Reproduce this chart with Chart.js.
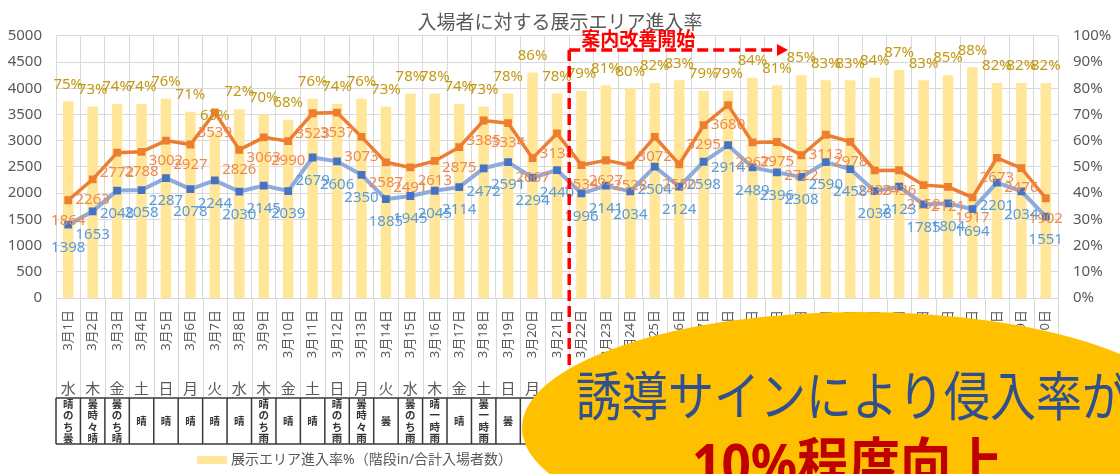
<!DOCTYPE html>
<html lang="ja">
<head>
<meta charset="utf-8">
<title>入場者に対する展示エリア進入率</title>
<script src="https://cdn.jsdelivr.net/npm/chart.js@4.4.1/dist/chart.umd.min.js"></script>
<style>
  html, body { margin: 0; padding: 0; background: #fff; }
  #wrap { width: 1120px; height: 474px; }
</style>
</head>
<body>
<div id="wrap"><canvas id="chart" width="1120" height="474"></canvas></div>
<script>
var days = ['3月1日', '3月2日', '3月3日', '3月4日', '3月5日', '3月6日', '3月7日', '3月8日', '3月9日', '3月10日',
    '3月11日', '3月12日', '3月13日', '3月14日', '3月15日', '3月16日', '3月17日', '3月18日', '3月19日', '3月20日',
    '3月21日', '3月22日', '3月23日', '3月24日', '3月25日', '3月26日', '3月27日', '3月28日', '3月29日', '3月30日',
    '3月31日', '4月1日', '4月2日', '4月3日', '4月4日', '4月5日', '4月6日', '4月7日', '4月8日', '4月9日', '4月10日'];
var weekdays = ['水', '木', '金', '土', '日', '月', '火', '水', '木', '金', '土', '日', '月', '火', '水', '木', '金', '土', '日', '月',
    '火', '水', '木', '金', '土', '日', '月', '火', '水', '木', '金', '土', '日', '月', '火', '水', '木', '金', '土', '日', '月'];
var weather = ['晴のち曇', '曇時々晴', '曇のち晴', '晴', '晴', '晴', '晴', '晴', '晴のち雨', '晴',
    '晴', '晴のち雨', '曇時々雨', '曇', '曇のち雨', '晴一時雨', '晴', '曇一時雨', '曇', '晴',
    '晴', '晴', '晴', '晴', '晴', '晴', '晴', '晴', '晴', '晴',
    '晴', '晴', '晴', '晴', '晴', '晴', '晴', '晴', '晴', '晴', '晴'];

// 合計入場者数
var totalVisitors = [1864, 2263, 2772, 2788, 3002, 2927, 3539, 2826, 3063, 2990,
    3523, 3537, 3073, 2587, 2491, 2613, 2875, 3385, 3334, 2667,
    3138, 2534, 2627, 2528, 3072, 2550, 3295, 3680, 2967, 2975,
    2722, 3113, 2978, 2433, 2436, 2152, 2121, 1917, 2673, 2476, 1902];
// 階段in
var stairsIn = [1398, 1653, 2048, 2058, 2287, 2078, 2244, 2030, 2145, 2039,
    2679, 2606, 2350, 1885, 1945, 2045, 2114, 2472, 2591, 2294,
    2440, 1996, 2141, 2034, 2504, 2124, 2598, 2914, 2489, 2396,
    2308, 2590, 2458, 2038, 2123, 1785, 1804, 1694, 2201, 2034, 1551];
// 展示エリア進入率%
var entryRate = [75, 73, 74, 74, 76, 71, 63, 72, 70, 68,
    76, 74, 76, 73, 78, 78, 74, 73, 78, 86,
    78, 79, 81, 80, 82, 83, 79, 79, 84, 81,
    85, 83, 83, 84, 87, 83, 85, 88, 82, 82, 82];

var leftTicks = [0, 500, 1000, 1500, 2000, 2500, 3000, 3500, 4000, 4500, 5000];
var rightTicks = [0, 10, 20, 30, 40, 50, 60, 70, 80, 90, 100];

var startIndex = 21;   // 3月22日
var arrowEndIndex = 29;
var noteText = '案内改善開始';
var bubbleLine1 = '誘導サインにより侵入率が';
var bubbleLine2 = '10%程度向上';
var legendText = '展示エリア進入率%（階段in/合計入場者数）';

var CJK = '"Noto Sans CJK JP", sans-serif';
Chart.defaults.font.family = '"Noto Sans", "Noto Sans CJK JP", sans-serif';
Chart.defaults.color = '#595959';

var extras = {
    id: 'extras',
    afterDatasetsDraw: function (chart) {
        var ctx = chart.ctx;
        ctx.save();
        ctx.font = '15px "Noto Sans", sans-serif';
        ctx.textAlign = 'center';
        ctx.textBaseline = 'middle';
        chart.getDatasetMeta(1).data.forEach(function (p, i) {
            ctx.fillStyle = '#F08A4B';
            ctx.fillText(totalVisitors[i], p.x, p.y + 20);
        });
        chart.getDatasetMeta(2).data.forEach(function (p, i) {
            ctx.fillStyle = '#5B9BD5';
            ctx.fillText(stairsIn[i], p.x, p.y + 23);
        });
        chart.getDatasetMeta(0).data.forEach(function (b, i) {
            ctx.fillStyle = '#C29A12';
            ctx.fillText(entryRate[i] + '%', b.x, b.y - 17);
        });
        ctx.restore();
    },
    afterDraw: function (chart) {
        var ctx = chart.ctx;
        var xs = chart.scales.x;
        var ca = chart.chartArea;
        var step = xs.getPixelForValue(1) - xs.getPixelForValue(0);
        var tableTop = 398, tableBottom = 444;
        ctx.save();

        // category separators under the axis
        ctx.strokeStyle = '#D9D9D9';
        ctx.lineWidth = 1;
        for (var i = 0; i <= days.length; i++) {
            var bx = Math.round(xs.getPixelForValue(0) - step / 2 + i * step) + 0.5;
            ctx.beginPath();
            ctx.moveTo(bx, ca.bottom);
            ctx.lineTo(bx, tableTop);
            ctx.stroke();
        }

        // weekday row
        ctx.fillStyle = '#595959';
        ctx.font = '15px ' + CJK;
        ctx.textAlign = 'center';
        ctx.textBaseline = 'middle';
        weekdays.forEach(function (d, i) {
            ctx.fillText(d, xs.getPixelForValue(i), 388);
        });

        // weather table
        ctx.strokeStyle = '#3A3A3A';
        ctx.lineWidth = 1.5;
        var x0 = xs.getPixelForValue(0) - step / 2;
        ctx.beginPath();
        ctx.moveTo(x0, tableTop); ctx.lineTo(x0 + step * days.length, tableTop);
        ctx.moveTo(x0, tableBottom); ctx.lineTo(x0 + step * days.length, tableBottom);
        for (var j = 0; j <= days.length; j++) {
            ctx.moveTo(x0 + j * step, tableTop);
            ctx.lineTo(x0 + j * step, tableBottom);
        }
        ctx.stroke();
        ctx.fillStyle = '#333333';
        ctx.font = 'bold 10.5px ' + CJK;
        weather.forEach(function (w, i) {
            var chars = w.split('');
            var mid = (tableTop + tableBottom) / 2;
            var lh = 11.2;
            chars.forEach(function (c, k) {
                ctx.fillText(c, xs.getPixelForValue(i), mid + (k - (chars.length - 1) / 2) * lh);
            });
        });

        // legend
        ctx.fillStyle = '#FFE699';
        ctx.fillRect(197, 456, 30, 8);
        ctx.fillStyle = '#595959';
        ctx.font = '14px "Noto Sans", "Noto Sans CJK JP", sans-serif';
        ctx.textAlign = 'left';
        ctx.fillText(legendText, 231, 460);

        // 案内改善開始 marker
        var sx = (xs.getPixelForValue(startIndex - 1) + xs.getPixelForValue(startIndex)) / 2;
        var tip = xs.getPixelForValue(arrowEndIndex) + 11;
        ctx.strokeStyle = '#FF0000';
        ctx.lineWidth = 3.5;
        ctx.setLineDash([11, 5]);
        ctx.beginPath();
        ctx.moveTo(sx, 50); ctx.lineTo(sx, tableTop);
        ctx.moveTo(sx, 50); ctx.lineTo(tip - 10, 50);
        ctx.stroke();
        ctx.setLineDash([]);
        ctx.fillStyle = '#FF0000';
        ctx.beginPath();
        ctx.moveTo(tip, 50); ctx.lineTo(tip - 11, 44); ctx.lineTo(tip - 11, 56);
        ctx.closePath();
        ctx.fill();
        ctx.font = 'bold 19px ' + CJK;
        ctx.textBaseline = 'alphabetic';
        ctx.fillText(noteText, sx + 12, 46);

        // callout bubble
        ctx.fillStyle = '#FFC000';
        ctx.beginPath();
        ctx.ellipse(860, 428, 338, 116, 0, 0, Math.PI * 2);
        ctx.fill();

        ctx.textBaseline = 'middle';
        ctx.save();
        ctx.translate(576, 396);
        ctx.scale(1, 1.15);
        ctx.font = '46px ' + CJK;
        ctx.fillStyle = '#2F4F8F';
        ctx.textAlign = 'left';
        ctx.fillText(bubbleLine1, 0, 0);
        ctx.restore();

        ctx.save();
        ctx.font = 'bold 50px "Noto Sans", "Noto Sans CJK JP", sans-serif';
        var w2 = ctx.measureText(bubbleLine2).width;
        ctx.translate(692, 468);
        ctx.scale(311 / w2, 1.12);
        ctx.fillStyle = '#C00000';
        ctx.textAlign = 'left';
        ctx.fillText(bubbleLine2, 0, 0);
        ctx.restore();

        ctx.restore();
    }
};

new Chart(document.getElementById('chart').getContext('2d'), {
    type: 'bar',
    data: {
        labels: days,
        datasets: [{
            label: '展示エリア進入率%（階段in/合計入場者数）',
            data: entryRate,
            yAxisID: 'y1',
            backgroundColor: '#FFE699',
            barPercentage: 0.43,
            categoryPercentage: 1,
            order: 3
        }, {
            type: 'line',
            label: '合計入場者数',
            data: totalVisitors,
            yAxisID: 'y',
            borderColor: '#ED7D31',
            backgroundColor: '#ED7D31',
            borderWidth: 3.5,
            pointStyle: 'rect',
            pointRadius: 5.5,
            pointBorderWidth: 0,
            tension: 0,
            order: 2
        }, {
            type: 'line',
            label: '階段in',
            data: stairsIn,
            yAxisID: 'y',
            borderColor: '#8FAADC',
            backgroundColor: '#4472C4',
            borderWidth: 4,
            pointStyle: 'rect',
            pointRadius: 5.5,
            pointBorderWidth: 0,
            tension: 0,
            order: 1
        }]
    },
    options: {
        responsive: false,
        animation: false,
        layout: { padding: 0 },
        plugins: {
            legend: { display: false },
            tooltip: { enabled: false },
            title: {
                display: true,
                text: '入場者に対する展示エリア進入率',
                color: '#595959',
                font: { size: 19, weight: 'normal', family: CJK },
                padding: { top: 10, bottom: 3 }
            }
        },
        scales: {
            x: {
                grid: { color: '#D9D9D9', offset: true, drawTicks: false },
                border: { color: '#D9D9D9' },
                ticks: {
                    autoSkip: false, minRotation: 90, maxRotation: 90, padding: 12,
                    color: '#595959', font: { size: 13 }
                },
                afterFit: function (s) { s.height = 176; }
            },
            y: {
                position: 'left',
                min: 0, max: 5000,
                grid: { color: '#D9D9D9', drawTicks: false },
                border: { display: false },
                ticks: {
                    padding: 14, color: '#595959', font: { size: 15 },
                    callback: function (v) { return String(v); }
                },
                afterBuildTicks: function (s) { s.ticks = leftTicks.map(function (v) { return { value: v }; }); },
                afterFit: function (s) { s.width = 56; }
            },
            y1: {
                position: 'right',
                min: 0, max: 100,
                grid: { display: false, drawTicks: false },
                border: { display: false },
                ticks: {
                    padding: 15, color: '#595959', font: { size: 15 },
                    callback: function (v) { return v + '%'; }
                },
                afterBuildTicks: function (s) { s.ticks = rightTicks.map(function (v) { return { value: v }; }); },
                afterFit: function (s) { s.width = 62; }
            }
        }
    },
    plugins: [extras]
});
</script>
</body>
</html>
